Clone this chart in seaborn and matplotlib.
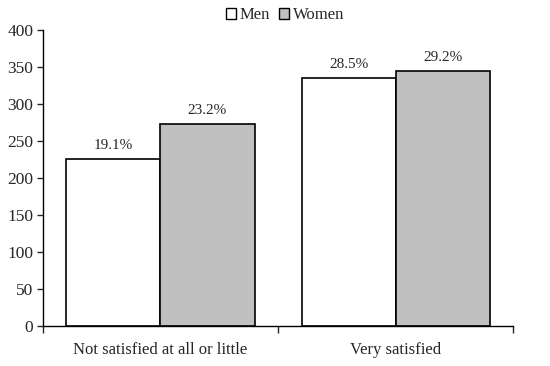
import matplotlib
matplotlib.use("Agg")
import matplotlib.pyplot as plt
import seaborn as sns
import pandas as pd
from matplotlib.patches import Patch

# data
categories = ["Not satisfied at all or little", "Very satisfied"]
groups = ["Men", "Women"]
men_values = [226, 335]
women_values = [273, 345]
men_labels = ["19.1%", "28.5%"]
women_labels = ["23.2%", "29.2%"]

df = pd.DataFrame({
    "category": categories * 2,
    "sex": ["Men"] * 2 + ["Women"] * 2,
    "value": men_values + women_values,
})

sns.set_style("ticks")
plt.rcParams["font.family"] = ["Liberation Serif", "DejaVu Serif"]

fig = plt.figure(figsize=(5.5, 3.66), dpi=100)
ax = fig.add_axes([0.078, 0.110, 0.855, 0.807])

sns.barplot(data=df, x="category", y="value", hue="sex", hue_order=groups,
            palette={"Men": "white", "Women": "#c0c0c0"},
            edgecolor="black", linewidth=1.2, width=0.8, ax=ax, legend=False)

# percentage labels above bars
for container, labels in zip(ax.containers, [men_labels, women_labels]):
    ax.bar_label(container, labels=labels, padding=5, fontsize=11)

ax.set_ylim(0, 400)
ax.set_yticks(range(0, 401, 50))
ax.set_xlim(-0.5, 1.5)
ax.set_xticks([-0.5, 0.5, 1.5], minor=False)
ax.set_xticklabels(["", "", ""])
ax.set_xticks([0, 1], minor=True)
ax.set_xticklabels(categories, minor=True, fontsize=12)
ax.tick_params(axis="x", which="minor", length=0, pad=12)
ax.tick_params(axis="x", which="major", length=5, direction="out", width=1)
ax.tick_params(axis="y", length=4, width=1, labelsize=12.5, pad=3)
ax.set_xlabel("")
ax.set_ylabel("")
for side in ["top", "right"]:
    ax.spines[side].set_visible(False)
for side in ["left", "bottom"]:
    ax.spines[side].set_linewidth(1)
    ax.spines[side].set_color("black")

handles = [Patch(facecolor="white", edgecolor="black", label="Men"),
           Patch(facecolor="#c0c0c0", edgecolor="black", label="Women")]
fig.legend(handles=handles, loc="center", bbox_to_anchor=(0.518, 0.958), ncol=2,
           frameon=False, fontsize=12, handlelength=0.6, handleheight=0.6,
           handletextpad=0.2, columnspacing=0.6)

fig.savefig("out.png", dpi=100)
